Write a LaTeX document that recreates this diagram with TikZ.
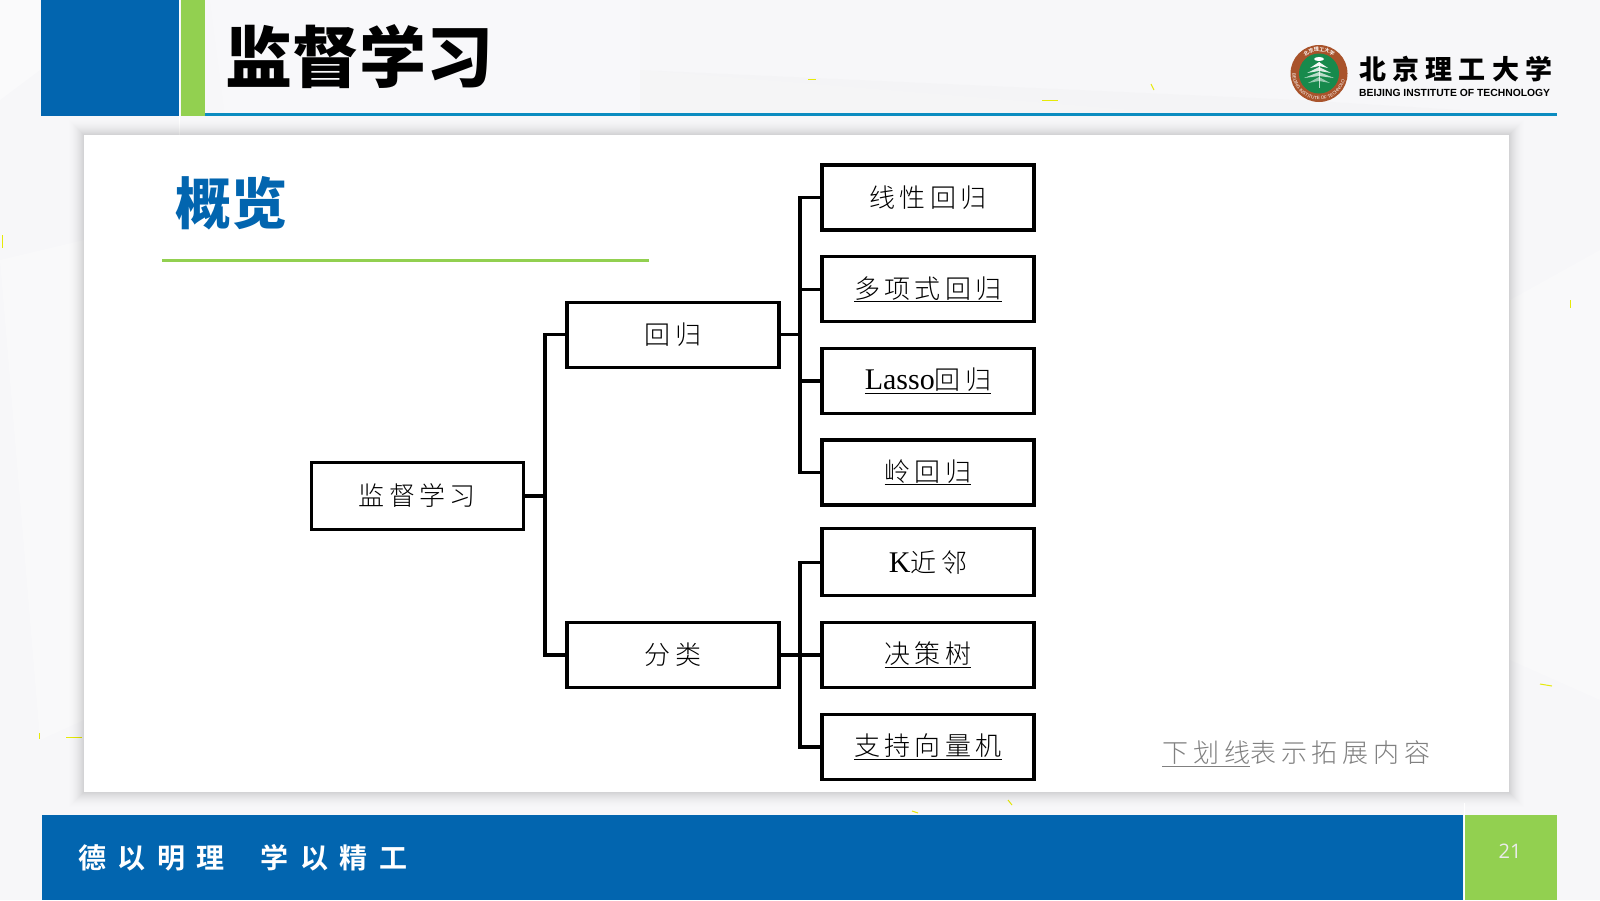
\documentclass[tikz,border=0pt]{standalone}
\usepackage{fontspec}
\usepackage{xcolor}
\usetikzlibrary{positioning,calc,decorations.text}
\setmainfont{Liberation Serif}
\newfontfamily\heavyfont{Noto Sans CJK SC Black}
\newfontfamily\boxfont[LetterSpace=17]{Noto Sans CJK SC Light}
\newfontfamily\notefont[LetterSpace=19]{Noto Sans CJK SC Light}
\newfontfamily\mottofont[LetterSpace=41]{Noto Sans CJK SC Bold}
\newfontfamily\schoolfont[LetterSpace=23]{Noto Sans CJK SC Black}
\newfontfamily\ringfont{Noto Sans CJK SC Bold}
\newfontfamily\latfont{Liberation Serif}
\newfontfamily\pagefont{Open Sans}
\newfontfamily\engfont{Liberation Sans}
\newcommand{\lat}[1]{{\latfont\fontsize{30}{30}\selectfont #1}}
\definecolor{bitblue}{HTML}{0265AF}
\definecolor{bitgreen}{HTML}{92D050}
\definecolor{bitteal}{HTML}{0B8CC0}
\definecolor{pagegray}{HTML}{F7F7F9}
\definecolor{logobrown}{HTML}{A9532B}
\definecolor{logogreen}{HTML}{178A4C}
\tikzset{
    itembox/.style={draw=black, line width=3.3pt, fill=white, minimum width=212pt, minimum height=65pt,
        inner sep=0pt, outer sep=0pt, font=\boxfont\fontsize{26}{30}\selectfont},
    link/.style={draw=black, line width=3.3pt},
    speck/.style={draw=yellow!90!green, line width=1pt}
}
\begin{document}
\begin{tikzpicture}[x=1pt, y=-1pt]
    \useasboundingbox (0,0) rectangle (1600,900);
    % Page background
    \fill[pagegray] (0,0) rectangle (1600,900);
    \fill[white, opacity=0.2] (210,0) -- (640,0) -- (640,70) -- (1130,110) -- (640,116) -- (225,116) -- cycle;
    \fill[black!6, opacity=0.3] (640,70) -- (1300,100) -- (1557,116) -- (640,116) -- cycle;
    \fill[white, opacity=0.4] (0,0) -- (40,0) -- (40,70) -- (0,100) -- cycle;
    \fill[white, opacity=0.25] (1510,300) -- (1600,250) -- (1600,700) -- (1510,660) -- cycle;
    \fill[white, opacity=0.25] (0,260) -- (84,240) -- (84,720) -- (40,740) -- cycle;
    \draw[speck] (2,235) -- (2,248);
    \draw[speck] (39,733) -- (39,739);
    \draw[speck] (66,737) -- (82,737);
    \draw[speck] (808,79) -- (816,79);
    \draw[speck] (1042,100) -- (1058,100);
    \draw[speck] (1151,84) -- (1154,90);
    \draw[speck] (1570,300) -- (1570,308);
    \draw[speck] (1540,684) -- (1552,686);
    \draw[speck] (1008,800) -- (1012,805);
    \draw[speck] (912,811) -- (918,813);

    % Header
    \fill[bitblue] (41,0) rectangle (178.5,116);
    \fill[bitgreen] (180.5,0) rectangle (205,116);
    \draw[white, line width=1pt] (179.5,0) -- (179.5,135);
    \fill[bitteal] (205,112.5) rectangle (1557,115.5);
    \node[anchor=west, inner sep=0pt, font=\heavyfont\fontsize{67}{70}\selectfont] (title) at (225,57) {监督学习};

    % Logo
    \coordinate (logo) at (1319,73.5);
    \fill[logobrown] (logo) circle (28.5);
    \fill[logogreen] (logo) circle (20);
    \foreach \yy/\rr/\oo in {62/9/0.95, 67/12/0.85, 72/15/0.7, 77/11/0.55} {
        \fill[white, opacity=\oo] (1319,\yy) -- (1319-\rr,\yy+6) -- (1319,\yy+4) -- (1319+\rr,\yy+6) -- cycle;
    }
    \fill[white] (1319,59) ellipse (5 and 2);
    \fill[white, opacity=0.7] (1318.5,62) rectangle (1319.5,88);
    \path[decorate, decoration={text along path, text align=center,
        text={|\engfont\fontsize{4.6}{5}\selectfont\color{white}|BEIJING INSTITUTE OF TECHNOLOGY}}]
        (1319,73.5) ++(165:26.5) arc[start angle=165, end angle=15, radius=26.5];
    \path[decorate, decoration={text along path, text align=center,
        text={|\ringfont\fontsize{5}{5}\selectfont\color{white}|北京理工大学}}]
        (1319,73.5) ++(225:22) arc[start angle=225, end angle=315, radius=22];
    \node[anchor=west, inner sep=0pt, font=\schoolfont\fontsize{27}{30}\selectfont] (school) at (1359,69.5) {北京理工大学};
    \node[anchor=west, inner sep=0pt, font=\engfont\bfseries\fontsize{10.35}{12}\selectfont] (schooleng) at (1359,92.5) {BEIJING INSTITUTE OF TECHNOLOGY};

    % Panel with soft shadow
    \foreach \dd [evaluate=\dd as \oo using 0.001*(17-\dd)] in {1,...,16} {
        \fill[black, opacity=\oo] ($(84,135)+(-\dd,-\dd)$) rectangle ($(1509,792)+(\dd,\dd)$);
    }
    \fill[white] (84,135) rectangle (1509,792);
    \node[anchor=center, inner sep=0pt, text=bitblue, font=\heavyfont\fontsize{56}{60}\selectfont] (overview) at (231,203) {概览};
    \draw[bitgreen, line width=3.5pt] (162,260.5) -- (649,260.5);

    % Tree boxes
    \node[itembox, minimum height=67pt] (sup) at (417.3,495.9) {监督学习};
    \node[itembox] (reg) at (673,334.7) {回归};
    \node[itembox] (cls) at (673,655.1) {分类};
    \node[itembox] (linear) at (928,197.4) {线性回归};
    \node[itembox] (poly) at (928,289.3) {\underline{多项式回归}};
    \node[itembox] (lasso) at (928,381.1) {\underline{\lat{Lasso}回归}};
    \node[itembox] (ridge) at (928,472.4) {\underline{岭回归}};
    \node[itembox, minimum height=67pt] (knn) at (928,562.2) {\lat{K}近邻};
    \node[itembox] (dtree) at (928,655.1) {\underline{决策树}};
    \node[itembox] (svm) at (928,746.9) {\underline{支持向量机}};

    % Connectors
    \coordinate (trunkA) at (545,0);
    \coordinate (trunkB) at (800,0);
    \draw[link] (sup.east) -- (trunkA |- sup.east);
    \foreach \kid in {reg,cls} {
        \draw[link] (trunkA |- sup.east) |- (\kid.west);
    }
    \draw[link] (reg.east) -- (trunkB |- reg.east);
    \foreach \kid in {linear,poly,lasso,ridge} {
        \draw[link] (trunkB |- reg.east) |- (\kid.west);
    }
    \draw[link] (cls.east) -- (trunkB |- cls.east);
    \foreach \kid in {knn,dtree,svm} {
        \draw[link] (trunkB |- cls.east) |- (\kid.west);
    }

    % Note
    \node[anchor=west, inner sep=0pt, text=black!50, font=\notefont\fontsize{26}{30}\selectfont] (note) at (1162,754) {\underline{下划线}表示拓展内容};

    % Footer
    \fill[bitblue] (42,815) rectangle (1463,900);
    \fill[bitgreen] (1465,815) rectangle (1557,900);
    \draw[white, line width=1pt] (1464,803) -- (1464,900);
    \node[anchor=west, inner sep=0pt, text=white, font=\mottofont\fontsize{28}{32}\selectfont] (motto) at (78,858) {德以明理\hspace{36pt}学以精工};
    \node[inner sep=0pt, text=white!92!black, font=\pagefont\fontsize{20}{24}\selectfont] (pagenum) at (1510,851) {21};
\end{tikzpicture}
\end{document}
